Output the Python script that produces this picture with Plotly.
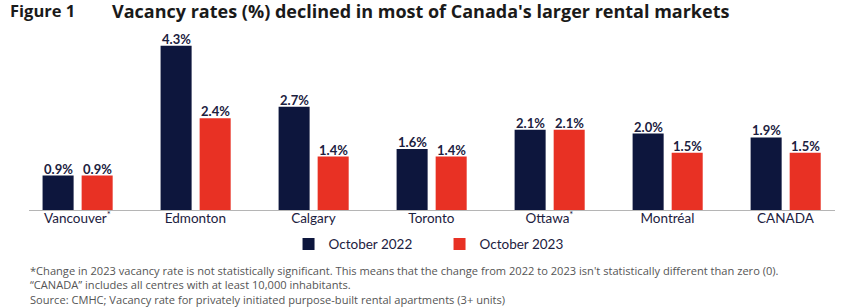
import plotly.graph_objects as go

categories = ["Vancouver<sup>*</sup>", "Edmonton", "Calgary", "Toronto", "Ottawa<sup>*</sup>", "Montréal", "CANADA"]
oct_2022 = [0.9, 4.3, 2.7, 1.6, 2.1, 2.0, 1.9]
oct_2023 = [0.9, 2.4, 1.4, 1.4, 2.1, 1.5, 1.5]
series_names = ["October 2022", "October 2023"]

NAVY = "#0d163d"
RED = "#e83124"
TEXT = "#1c2140"
FONT = "Lato"
BAR_W = 0.263

fig = go.Figure()
series = [(series_names[0], oct_2022, NAVY, -0.295),
          (series_names[1], oct_2023, RED, 0.036)]
for name, vals, color, off in series:
    fig.add_trace(go.Bar(
        x=list(range(len(categories))), y=vals, name=name,
        marker=dict(color=color, line=dict(width=0)),
        width=BAR_W, offset=off, cliponaxis=False,
    ))
    for i, v in enumerate(vals):
        fig.add_annotation(x=i + off + BAR_W / 2, y=v, xref="x", yref="y",
                           text=f"{v:.1f}%", showarrow=False, yanchor="bottom",
                           yshift=-3, font=dict(family=FONT, size=13, color=TEXT, weight="bold"))

fig.update_layout(
    width=855, height=308,
    margin=dict(l=29, r=20, t=40, b=98, autoexpand=False),
    paper_bgcolor="white", plot_bgcolor="white",
    barmode="overlay",
    showlegend=True,
    legend=dict(orientation="h", x=0.322, y=-0.11, xanchor="left", yanchor="top",
                font=dict(family=FONT, size=13.5, color=TEXT),
                entrywidth=106, entrywidthmode="pixels",
                bgcolor="rgba(0,0,0,0)"),
    xaxis=dict(range=[-0.41, 6.42], tickmode="array", tickvals=list(range(len(categories))),
               ticktext=categories, showgrid=False, zeroline=False,
               showline=True, linecolor="#b5b5b5", linewidth=1, ticks="",
               ticklabelstandoff=-4,
               tickfont=dict(family=FONT, size=13.5, color=TEXT)),
    yaxis=dict(range=[0, 4.45], visible=False, showgrid=False, zeroline=False),
    font=dict(family=FONT),
)

fig.add_annotation(xref="paper", yref="paper", x=(8 - 29) / 806, y=1 + (40 - 11) / 170,
                   xanchor="left", yanchor="middle",
                   text="<b>Figure 1</b>", showarrow=False,
                   font=dict(family="Open Sans", size=16.5, color="#1a1a1a"))
fig.add_annotation(xref="paper", yref="paper", x=(110 - 29) / 806, y=1 + (40 - 11) / 170,
                   xanchor="left", yanchor="middle",
                   text="<b>Vacancy rates (%) declined in most of Canada's larger rental markets</b>",
                   showarrow=False, font=dict(family="Open Sans", size=18, color="#1a1a1a"))

notes = [
    "*Change in 2023 vacancy rate is not statistically significant. This means that the change from 2022 to 2023 isn't statistically different than zero (0).",
    "\u201cCANADA\u201d includes all centres with at least 10,000 inhabitants.",
    "Source: CMHC; Vacancy rate for privately initiated purpose-built rental apartments (3+ units)",
]
fig.add_annotation(xref="paper", yref="paper", x=-1 / 806, y=(210 - 285) / 170,
                   xanchor="left", yanchor="middle", align="left",
                   text="<br>".join(notes), showarrow=False,
                   font=dict(family="Open Sans", size=11.1, color="#555555"))

fig.write_html("out.html", config={"displayModeBar": False},
               post_script="document.body.style.margin='0px';")
